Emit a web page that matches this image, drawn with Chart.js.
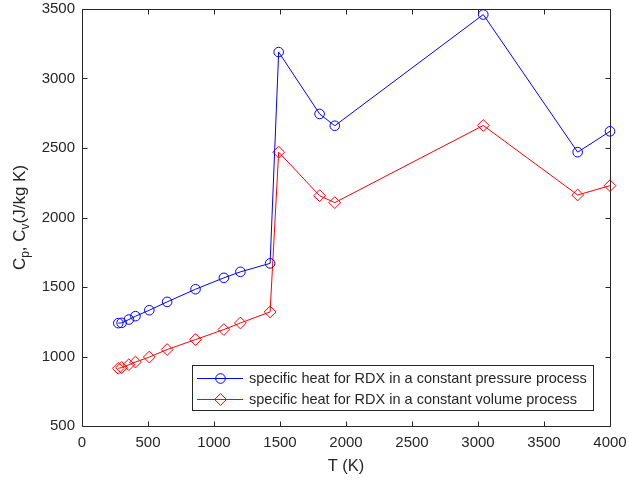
<!DOCTYPE html>
<html>
<head>
<meta charset="utf-8">
<script src="https://cdn.jsdelivr.net/npm/chart.js@4.4.1/dist/chart.umd.min.js"></script>
<style>
  html, body { margin: 0; padding: 0; background: #fff; }
</style>
</head>
<body>
<canvas id="heat" width="629" height="482"></canvas>
<script>
// temperature (K)
const temps = [275, 300, 355, 405, 510, 645, 860, 1075, 1200, 1425, 1490, 1800, 1915, 3040, 3755, 4000];
// Cp, constant pressure (J/kg K)
const cpVals = [1240, 1242, 1266, 1290, 1333, 1393, 1484, 1566, 1609, 1670, 3190, 2745, 2660, 3460, 2470, 2620];
// Cv, constant volume (J/kg K)
const cvVals = [915, 920, 941, 960, 996, 1050, 1122, 1194, 1241, 1321, 2470, 2157, 2107, 2662, 2162, 2229];

const xTicks = [0, 500, 1000, 1500, 2000, 2500, 3000, 3500, 4000];
const yTicks = [500, 1000, 1500, 2000, 2500, 3000, 3500];

const cpLabel = 'specific heat for RDX in a constant pressure process';
const cvLabel = 'specific heat for RDX in a constant volume process';
const xTitle = 'T (K)';
// y title pieces: [text, isSubscript]
const yTitleParts = [['C', false], ['p', true], [', C', false], ['v', true], ['(J/kg K)', false]];

const axisCol = '#262626';
const fontFam = '"Liberation Sans", Arial, sans-serif';

function toPoints(xs, ys) {
  return xs.map((x, i) => ({ x: x, y: ys[i] }));
}

// box round the plot, with ticks pointing inward on all four sides
const boxPlugin = {
  id: 'box',
  beforeDatasetsDraw(chart) {
    const ctx = chart.ctx;
    const a = chart.chartArea;
    const xs = chart.scales.x, ys = chart.scales.y;
    const L = Math.round(a.left) + 0.5, R = Math.round(a.right) + 0.5;
    const T = Math.round(a.top) + 0.5, B = Math.round(a.bottom) + 0.5;
    const tl = 5;
    ctx.save();
    ctx.strokeStyle = axisCol;
    ctx.lineWidth = 1;
    ctx.beginPath();
    ctx.rect(L, T, R - L, B - T);
    xTicks.forEach(v => {
      const px = Math.round(xs.getPixelForValue(v)) + 0.5;
      ctx.moveTo(px, B); ctx.lineTo(px, B - tl);
      ctx.moveTo(px, T); ctx.lineTo(px, T + tl);
    });
    yTicks.forEach(v => {
      const py = Math.round(ys.getPixelForValue(v)) + 0.5;
      ctx.moveTo(L, py); ctx.lineTo(L + tl, py);
      ctx.moveTo(R, py); ctx.lineTo(R - tl, py);
    });
    ctx.stroke();
    ctx.restore();
  }
};

// y axis title with real subscripts
const yTitlePlugin = {
  id: 'ytitle',
  afterDraw(chart) {
    const ctx = chart.ctx;
    const a = chart.chartArea;
    const big = '17px ' + fontFam, small = '12px ' + fontFam;
    ctx.save();
    let total = 0;
    yTitleParts.forEach(p => {
      ctx.font = p[1] ? small : big;
      total += ctx.measureText(p[0]).width;
    });
    ctx.translate(25, (a.top + a.bottom) / 2);
    ctx.rotate(-Math.PI / 2);
    ctx.fillStyle = axisCol;
    ctx.textBaseline = 'alphabetic';
    ctx.textAlign = 'left';
    let x = -total / 2;
    yTitleParts.forEach(p => {
      ctx.font = p[1] ? small : big;
      ctx.fillText(p[0], x, p[1] ? 4 : 0);
      x += ctx.measureText(p[0]).width;
    });
    ctx.restore();
  }
};

// matlab style legend: line with marker in the middle
const legendPlugin = {
  id: 'mlegend',
  afterDraw(chart) {
    const ctx = chart.ctx;
    const bx = 192.5, by = 365.5, bw = 401, bh = 45;
    ctx.save();
    ctx.fillStyle = '#fff';
    ctx.fillRect(bx, by, bw, bh);
    ctx.strokeStyle = axisCol;
    ctx.lineWidth = 1;
    ctx.strokeRect(bx, by, bw, bh);
    const rows = [378, 399];
    chart.data.datasets.forEach((ds, i) => {
      const y = rows[i] + 0.5;
      ctx.strokeStyle = ds.borderColor;
      ctx.lineWidth = 1;
      ctx.beginPath();
      ctx.moveTo(197, y);
      ctx.lineTo(243, y);
      ctx.stroke();
      ctx.fillStyle = 'rgba(0,0,0,0)';
      Chart.helpers.drawPoint(ctx, {
        pointStyle: ds.pointStyle,
        radius: ds.pointRadius,
        rotation: 0,
        borderWidth: 1
      }, 220.5, y);
      ctx.fillStyle = axisCol;
      ctx.font = '14.5px ' + fontFam;
      ctx.textBaseline = 'middle';
      ctx.textAlign = 'left';
      ctx.fillText(ds.label, 249, y);
    });
    ctx.restore();
  }
};

const tickFont = { family: fontFam, size: 15 };

function noPad(s) {
  s.paddingLeft = 0; s.paddingRight = 0;
  s.paddingTop = 0; s.paddingBottom = 0;
}

new Chart(document.getElementById('heat'), {
  type: 'line',
  data: {
    datasets: [
      {
        label: cpLabel,
        data: toPoints(temps, cpVals),
        borderColor: 'rgb(0,0,255)',
        backgroundColor: 'rgba(0,0,0,0)',
        borderWidth: 1,
        pointStyle: 'circle',
        pointRadius: 4.8,
        pointBorderWidth: 1,
        pointBackgroundColor: 'rgba(0,0,0,0)',
        pointBorderColor: 'rgb(0,0,255)',
        tension: 0,
        clip: false
      },
      {
        label: cvLabel,
        data: toPoints(temps, cvVals),
        borderColor: 'rgb(255,0,0)',
        backgroundColor: 'rgba(0,0,0,0)',
        borderWidth: 1,
        pointStyle: 'rectRot',
        pointRadius: 5.9,
        pointBorderWidth: 1,
        pointBackgroundColor: 'rgba(0,0,0,0)',
        pointBorderColor: 'rgb(255,0,0)',
        tension: 0,
        clip: false
      }
    ]
  },
  options: {
    responsive: false,
    animation: false,
    layout: { padding: { left: 0, right: 19, top: 9, bottom: 0 } },
    plugins: {
      legend: { display: false },
      tooltip: { enabled: false }
    },
    scales: {
      x: {
        type: 'linear',
        min: 0,
        max: 4000,
        afterBuildTicks(s) { s.ticks = xTicks.map(v => ({ value: v })); },
        ticks: { color: axisCol, font: tickFont, padding: 8, maxRotation: 0, autoSkip: false, callback: v => String(v) },
        grid: { display: false, drawTicks: false },
        border: { display: false },
        title: { display: true, text: xTitle, color: axisCol, font: { family: fontFam, size: 16.5 }, padding: { top: 0, bottom: 6 } },
        afterFit(s) { s.height = 56; noPad(s); }
      },
      y: {
        type: 'linear',
        min: 500,
        max: 3500,
        afterBuildTicks(s) { s.ticks = yTicks.map(v => ({ value: v })); },
        ticks: { color: axisCol, font: tickFont, padding: 7, callback: v => String(v) },
        grid: { display: false, drawTicks: false },
        border: { display: false },
        afterFit(s) { s.width = 82; noPad(s); }
      }
    }
  },
  plugins: [boxPlugin, yTitlePlugin, legendPlugin]
});
</script>
</body>
</html>
